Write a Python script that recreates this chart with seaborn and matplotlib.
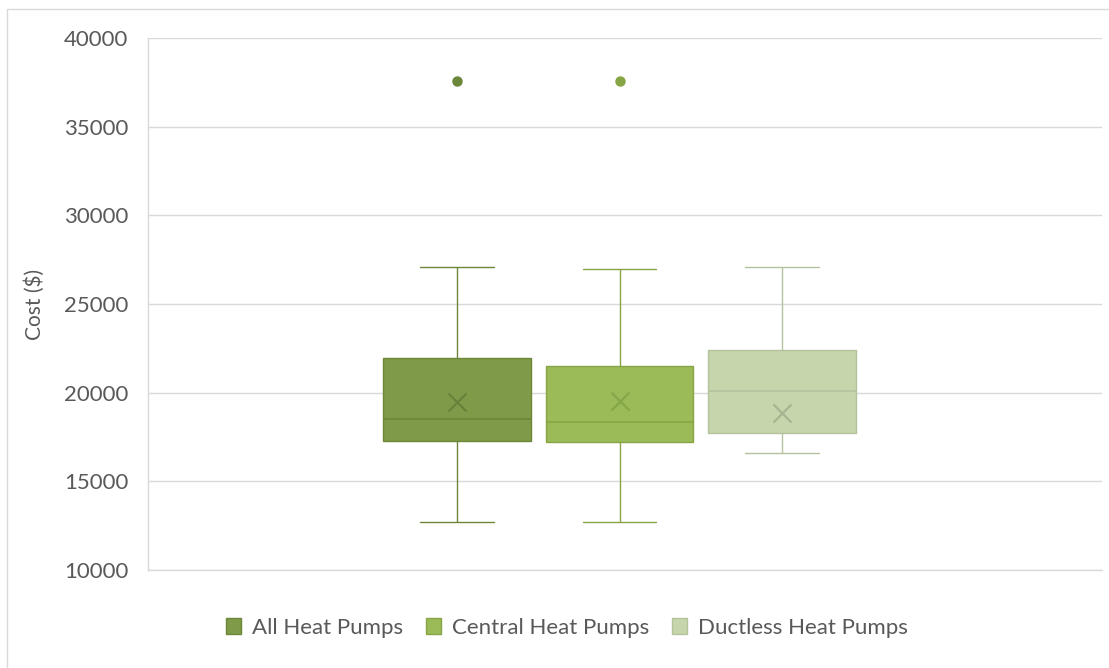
import matplotlib
matplotlib.use("Agg")
import matplotlib.pyplot as plt
from matplotlib.patches import Patch, Rectangle
import seaborn as sns
import numpy as np

# Data (cost in $), one sample per series
groups = ["All Heat Pumps", "Central Heat Pumps", "Ductless Heat Pumps"]
all_hp = [12700, 17300, 17300, 18500, 18500, 21950, 21950, 27100, 37600]
central_hp = [12700, 17200, 17200, 18350, 18350, 21500, 21500, 27000, 37600]
ductless_hp = [16600, 17700, 20100, 22400, 27100]
means = [19450, 19550, 18850]
y_ticks = [10000, 15000, 20000, 25000, 30000, 35000, 40000]

samples = [all_hp, central_hp, ductless_hp]
fills = ["#7F9A48", "#9BBB59", "#C6D5AB"]
edges = ["#6C8739", "#86A645", "#B4C29E"]
mean_cols = ["#68823A", "#86A64A", "#A6B692"]

sns.set_style("white")
plt.rcParams["font.family"] = ["Lato", "DejaVu Sans"]

fig = plt.figure(figsize=(11.09, 6.68), dpi=100)
ax = fig.add_axes([148 / 1109, 98 / 668, 954 / 1109, 532 / 668])

for i, (g, vals) in enumerate(zip(groups, samples)):
    sns.boxplot(
        x=[g] * len(vals), y=vals, order=groups, ax=ax,
        color=fills[i], linecolor=edges[i], linewidth=1.0, width=0.905,
        saturation=1, fill=True,
        flierprops=dict(marker="o", markersize=6.5, markerfacecolor=edges[i],
                        markeredgecolor=edges[i]),
        medianprops=dict(color=edges[i], linewidth=1.2),
    )
    ax.scatter(i, means[i], marker="x", s=170, color=mean_cols[i],
               linewidths=1.6, zorder=5)

ax.set_xlim(-309 / 162.5, 2 + 320 / 162.5)
ax.set_ylim(10000, 40000)
ax.set_yticks(y_ticks)
ax.set_xticks([])
ax.set_xlabel("")
ax.set_ylabel("Cost ($)", fontsize=15, color="#595959", labelpad=14)
ax.tick_params(axis="y", length=0, pad=14, labelsize=16, labelcolor="#595959")
ax.grid(axis="y", color="#D9D9D9", linewidth=1.0)
ax.set_axisbelow(True)
for side in ["top", "right"]:
    ax.spines[side].set_visible(False)
for side in ["left", "bottom"]:
    ax.spines[side].set_color("#D9D9D9")
    ax.spines[side].set_linewidth(1.0)

handles = [Patch(facecolor=fills[i], edgecolor=edges[i], label=groups[i]) for i in range(3)]
ax.legend(handles=handles, loc="center", bbox_to_anchor=((567 - 148) / 954, (570 - 628) / 532),
          ncol=3, frameon=False, fontsize=16, labelcolor="#595959",
          handlelength=0.7, handleheight=0.7, handletextpad=0.5, columnspacing=1.0)

# outer chart border
fig.patches.append(Rectangle((7 / 1109, -0.05), 1.2, 1 - 9 / 668 + 0.05,
                             transform=fig.transFigure, fill=False,
                             edgecolor="#D9D9D9", linewidth=1.0))

fig.savefig("out.png", dpi=100)
